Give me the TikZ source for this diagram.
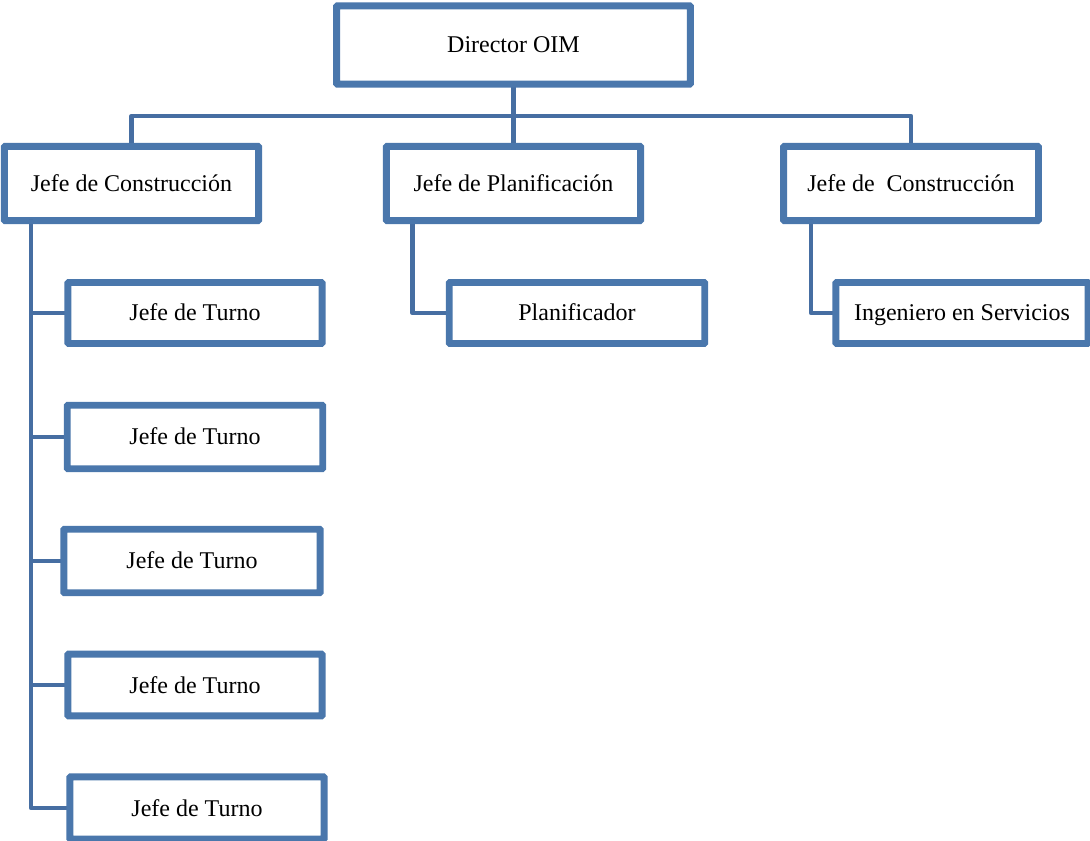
\documentclass[tikz,border=0pt]{standalone}
\usepackage{fontspec}
\setmainfont{Liberation Serif}
\definecolor{boxblue}{RGB}{74,119,172}
\definecolor{linkblue}{RGB}{70,110,162}
\begin{document}
\begin{tikzpicture}[x=0.75pt,y=-0.75pt,
  box/.style={draw=boxblue,line width=3.4pt,rounded corners=1pt,fill=white,
    rectangle,inner sep=0pt,text height=13pt,text depth=1pt,
    font=\fontsize{18}{21}\selectfont},
  conn/.style={draw=linkblue,line width=3.4pt,line join=round,line cap=rect}]
\useasboundingbox (0,0) rectangle (1090,841);

% fixed guide lines for the connector runs
\coordinate (bus) at (0,116);
\coordinate (spine) at (31,0);
\coordinate (planx) at (412.5,0);
\coordinate (ingx) at (811,0);

% top level
\node[box,minimum width=263.6pt,minimum height=57pt] (dir) at (513.5,45) {Director OIM};

% second level
\node[box,minimum width=189pt,minimum height=54pt] (c1) at (131.5,183.5) {Jefe de Construcción};
\node[box,minimum width=189pt,minimum height=54pt] (pl) at (513.5,183.5) {Jefe de Planificación};
\node[box,minimum width=189.4pt,minimum height=54pt] (c2) at (911,183.5) {Jefe de~ Construcción};

% third level
\node[box,minimum width=189pt,minimum height=44pt] (t1) at (195,313) {Jefe de Turno};
\node[box,minimum width=189.8pt,minimum height=46pt] (t2) at (195,437) {Jefe de Turno};
\node[box,minimum width=190.5pt,minimum height=46pt] (t3) at (192,561) {Jefe de Turno};
\node[box,minimum width=189pt,minimum height=44.6pt] (t4) at (195,685) {Jefe de Turno};
\node[box,minimum width=189pt,minimum height=45pt] (t5) at (197,808) {Jefe de Turno};
\node[box,minimum width=190pt,minimum height=44pt] (plan) at (577,313) {Planificador};
\node[box,minimum width=187.5pt,minimum height=44pt] (ing) at (962,313) {Ingeniero en Servicios};

% connectors
\draw[conn] (dir.south) -- (pl.north);
\draw[conn] (c1.north) |- (dir.south |- bus) -| (c2.north);
\draw[conn] (c1.south west -| spine) |- (t5.west);
\foreach \t in {t1,t2,t3,t4} \draw[conn] (\t.west -| spine) -- (\t.west);
\draw[conn] (pl.south west -| planx) |- (plan.west);
\draw[conn] (c2.south west -| ingx) |- (ing.west);

% redraw box outlines over connector ends
\foreach \n in {dir,c1,pl,c2,t1,t2,t3,t4,t5,plan,ing}
  \draw[draw=boxblue,line width=3.4pt,rounded corners=1pt] (\n.south west) rectangle (\n.north east);
\end{tikzpicture}
\end{document}
